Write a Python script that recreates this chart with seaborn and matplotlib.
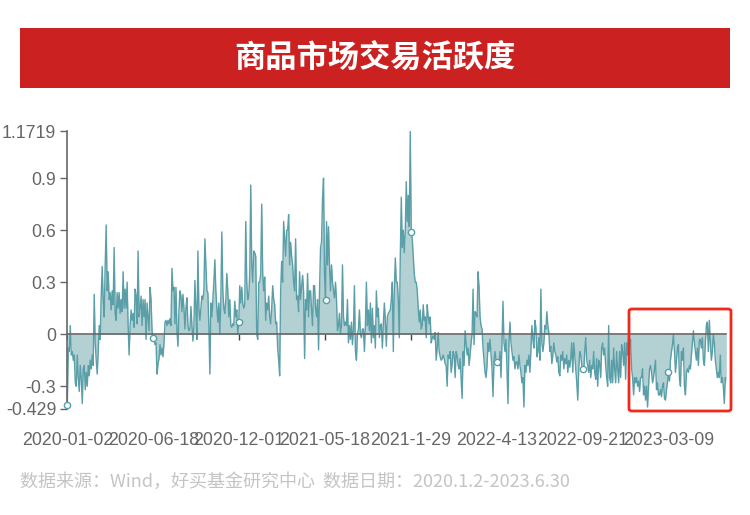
import numpy as np
import matplotlib
matplotlib.use("Agg")
import matplotlib.pyplot as plt
import matplotlib.patches as mpatches
import seaborn as sns

# ── Data (roughly one value per pixel column) ─────────────────────────────────
N_DAYS = 860
TICK_STEP = 112
TICK_LABELS = ["2020-01-02", "2020-06-18", "2020-12-01", "2021-05-18",
               "2021-1-29", "2022-4-13", "2022-09-21", "2023-03-09"]
Y_TICKS = [-0.429, -0.3, 0, 0.3, 0.6, 0.9, 1.1719]
Y_LABELS = ["-0.429", "-0.3", "0", "0.3", "0.6", "0.9", "1.1719"]

SEG_1 = [-0.41, -0.08, -0.10, 0.05, -0.12, -0.10, -0.15, -0.12, -0.28, -0.30, -0.12, -0.25,
         -0.33, -0.18, -0.25, -0.40, -0.20, -0.18, -0.32, -0.22, -0.30, -0.18, -0.24, -0.15,
         -0.20, -0.12, -0.18, 0.23, -0.05, -0.15, -0.23, -0.10, 0.05, -0.03, 0.22, 0.39,
         0.20, 0.10, 0.40, 0.63, 0.25, 0.36, 0.20, 0.24, 0.14, 0.25, 0.17, 0.50, 0.12, 0.08,
         0.24, 0.15, 0.24, 0.12, 0.20, 0.13, 0.36, 0.15, 0.26, 0.15, 0.30, 0.05, -0.12, 0.05,
         0.14, 0.08, 0.12, 0.04, 0.26, 0.22, 0.06, 0.48, 0.10, 0.15, 0.22, 0.05, 0.20, 0.10,
         0.20, -0.03, 0.18, 0.10, 0.02, 0.27, 0.20, 0.02, -0.02, -0.03, -0.06, -0.05, -0.23,
         -0.17, -0.14, -0.06]
SEG_2 = [-0.12, -0.08, -0.13, -0.05, 0.07, 0.08, 0.05, 0.08, 0.06, 0.09, 0.05, 0.38, 0.25,
         0.27, 0.06, 0.27, 0.02, -0.07, 0.14, 0.25, 0.22, 0.13, 0.23, 0.15, 0.03, 0.15, 0.21,
         0.05, 0.02, 0.03, 0.16, 0.05, -0.04, 0.05, 0.31, 0.15, -0.03, 0.48, 0.15, 0.08,
         0.15, 0.22, 0.20, 0.25, 0.55, 0.40, 0.25, 0.24, 0.05, -0.23, 0.18, 0.10, 0.20, 0.30,
         0.43, 0.25, 0.15, 0.07, 0.18, 0.00, 0.20, 0.59, 0.25, 0.15, 0.12, 0.20, 0.35, 0.25,
         0.10, 0.20, 0.05, 0.04, 0.06, 0.05, 0.19, 0.10, 0.14, 0.00, 0.07, 0.28, 0.18, 0.27,
         0.18, 0.15, 0.17, 0.65, 0.30, 0.20, 0.22, 0.35, 0.86, 0.40, 0.30, 0.48]
SEG_3 = [0.47, 0.45, 0.00, -0.03, 0.30, 0.30, 0.35, 0.75, 0.35, 0.25, 0.33, 0.08, 0.18, 0.14,
         0.22, 0.10, 0.06, 0.15, 0.28, 0.20, 0.17, 0.06, 0.07, -0.08, -0.15, -0.24, 0.25, 0.42,
         0.30, 0.65, 0.55, 0.45, 0.60, 0.60, 0.69, 0.40, 0.53, 0.45, 0.40, 0.30, 0.25, 0.55,
         0.20, 0.22, 0.13, 0.36, 0.20, 0.27, 0.34, 0.25, -0.14, 0.20, 0.14, 0.35, 0.10, 0.25,
         0.25, 0.14, 0.05, 0.28, 0.28, 0.15, 0.10, 0.20, -0.09, 0.25, 0.50, 0.53, 0.78, 0.90,
         0.35, 0.20, 0.65, 0.40, 0.62, 0.40, 0.25, 0.40, 0.30, 0.25, 0.21, 0.30, 0.20, 0.02,
         0.05, 0.12, 0.00, 0.05, 0.40, 0.10, 0.05, 0.07, 0.05, 0.20, -0.05, 0.05]
SEG_4 = [-0.03, 0.07, -0.06, 0.03, 0.28, -0.10, -0.15, 0.00, 0.03, 0.14, 0.00,
         -0.02, 0.03, 0.03, -0.10, 0.05, 0.30, 0.05, 0.14, 0.02, 0.18, -0.05, 0.15, -0.02,
         0.05, -0.08, 0.25, 0.10, 0.15, -0.02, 0.05, 0.06, -0.08, 0.06, 0.18, 0.08, -0.07,
         0.10, 0.12, 0.13, 0.14, 0.20, 0.30, -0.10, 0.25, 0.44, 0.30, 0.30, 0.20, -0.02, 0.45,
         0.79, 0.50, 0.60, 0.47, 0.60, 0.88, 0.65, 0.80, 0.62, 1.17, 0.59, 0.55, 0.45, 0.35,
         0.30, 0.30, 0.25, 0.15, 0.07, 0.14, 0.03, 0.05, 0.17, 0.08, 0.10, -0.02, 0.17, 0.10,
         0.06, 0.10, -0.05, -0.02, -0.01, -0.03, 0.01, -0.15, -0.08, 0.01, -0.10, -0.13,
         -0.15, -0.14]
SEG_5 = [-0.12, -0.14, -0.17, -0.18, -0.30, -0.12, -0.14, -0.10, -0.22, -0.17, -0.10, -0.12,
         -0.25, -0.10, -0.12, -0.18, -0.20, -0.14, -0.25, -0.37, -0.10, -0.18, 0.02, -0.05,
         -0.12, -0.08, -0.18, -0.12, -0.05, 0.00, 0.26, -0.06, 0.13, 0.12, 0.10, 0.36, 0.27,
         0.10, 0.05, 0.03, -0.08, -0.15, -0.22, -0.25, -0.18, -0.05, -0.10, -0.03, -0.12,
         -0.20, -0.36, -0.15, -0.10, -0.15, -0.16, -0.15, -0.18, -0.10, -0.25, -0.05, 0.19,
         -0.05, -0.10, -0.03, -0.20, -0.40, -0.05, 0.07, -0.05, -0.10, -0.15, -0.13, -0.20,
         -0.16, -0.16, -0.20, -0.12, -0.18, -0.22, -0.28, -0.25, -0.42, -0.18, -0.22, -0.15,
         -0.18, -0.12, -0.22, -0.10, 0.05, -0.03, -0.08, 0.08, 0.04]
SEG_6 = [-0.13, -0.10, -0.02, -0.15, 0.26, -0.05, -0.10, -0.05, 0.05, 0.03, 0.13, 0.05, 0.01,
         -0.10, -0.07, -0.17, -0.12, -0.05, -0.10, -0.12, -0.16, -0.13, -0.22, -0.24, -0.12,
         -0.15, -0.10, -0.20, -0.14, -0.17, -0.12, -0.22, -0.15, -0.19, -0.14, -0.05, -0.22,
         -0.05, -0.12, -0.20, -0.28, -0.38, -0.20, -0.10, -0.12, -0.18, -0.20, -0.22, -0.10,
         -0.02, -0.15, -0.18, -0.22, -0.15, -0.25, -0.18, -0.20, -0.10, -0.22, -0.26, -0.14,
         -0.30, -0.15, -0.17, -0.25, -0.08, -0.05, -0.12, -0.08, -0.18, -0.25, -0.30, 0.05,
         -0.25, -0.28, -0.15, -0.28, -0.08, -0.20, -0.28, -0.10, -0.20, -0.28, -0.10, -0.25,
         -0.06, -0.10, -0.18, -0.05, -0.26, -0.05, -0.12, -0.02]
SEG_7 = [-0.05, -0.03, -0.20, -0.25, -0.35, -0.25, -0.28, -0.25, -0.30, -0.27, -0.33, -0.25,
         -0.25, -0.20, -0.35, -0.30, -0.38, -0.30, -0.42, -0.30, -0.20, -0.18, -0.22, -0.28,
         -0.25, -0.20, -0.15, -0.32, -0.28, -0.35, -0.35, -0.32, -0.36, -0.30, -0.28, -0.37,
         -0.38, -0.32, -0.28, -0.22, -0.27, -0.15, -0.10, -0.06, 0.00, -0.10, -0.22, -0.15,
         -0.08, -0.06, -0.25, -0.30, -0.10, -0.15, -0.08, -0.30, -0.35, -0.22, -0.20, -0.22,
         -0.18, -0.20, -0.12, -0.05, 0.02, -0.05, -0.10, -0.15, -0.08, -0.18, -0.03, -0.03,
         -0.08, -0.02, -0.15, -0.18, -0.05, 0.05, 0.07, -0.10, 0.08, -0.05, -0.15, -0.10,
         0.00, -0.05, -0.15, -0.20, -0.25, -0.22, -0.25, -0.12, -0.28, -0.25, -0.30, -0.40,
         -0.25, -0.28]

values = np.array(SEG_1 + SEG_2 + SEG_3 + SEG_4 + SEG_5 + SEG_6 + SEG_7)
days = np.linspace(0, N_DAYS - 1, len(values))
tick_pos = np.arange(len(TICK_LABELS)) * TICK_STEP

# ── Palette ───────────────────────────────────────────────────────────────────
LINE = "#5A9FA8"
FILL = "#B3D0D3"
RED = "#CC2121"
TEXT = "#666666"

sns.set_theme(style="white")
plt.rcParams["font.family"] = ["Noto Sans CJK SC", "DejaVu Sans"]
TICK_FONT = ["Liberation Sans", "DejaVu Sans"]

W, H = 750, 515
fig = plt.figure(figsize=(W / 100, H / 100), dpi=100)
fig.patch.set_facecolor("white")

# title banner
fig.add_artist(mpatches.Rectangle((20 / W, 1 - 88 / H), 710 / W, 60 / H,
                                  transform=fig.transFigure, color=RED, lw=0))
fig.text(375 / W, 1 - 58 / H, "商品市场交易活跃度", color="white", fontsize=22.5,
         fontweight="bold", ha="center", va="center")

ax = fig.add_axes([67.3 / W, 106.4 / H, 659 / W, 277.6 / H])
ax.fill_between(days, values, 0, color=FILL, lw=0, zorder=1)
sns.lineplot(x=days, y=values, ax=ax, color=LINE, lw=1.0, zorder=2)
mark_idx = [int(np.argmin(np.abs(days - t))) for t in tick_pos]
ax.plot(days[mark_idx], values[mark_idx], "o", ms=4.5, mfc="white", mec=LINE,
        mew=1, zorder=4, clip_on=False)

ax.set_xlim(0, N_DAYS - 1)
ax.set_ylim(Y_TICKS[0], Y_TICKS[-1])
ax.set_yticks(Y_TICKS, Y_LABELS)
for s in ["top", "right"]:
    ax.spines[s].set_visible(False)
ax.spines["left"].set_color(TEXT)
ax.spines["left"].set_linewidth(1.2)
ax.spines["bottom"].set_position(("data", 0))
ax.spines["bottom"].set_color(TEXT)
ax.spines["bottom"].set_linewidth(1.2)
ax.spines["bottom"].set_zorder(3)
ax.set_xticks(tick_pos)
ax.tick_params(axis="x", bottom=True, length=4, width=1, color="#444444",
               direction="out", labelbottom=False)
ax.tick_params(axis="y", left=True, length=5, width=1, color=TEXT, labelcolor=TEXT, pad=3)
for lab in ax.get_yticklabels():
    lab.set_fontfamily(TICK_FONT)
    lab.set_fontsize(12.8)

sec = ax.secondary_xaxis("bottom")
sec.spines["bottom"].set_visible(False)
sec.set_xticks(tick_pos, TICK_LABELS)
sec.tick_params(length=0, pad=16.5, labelcolor=TEXT)
for lab in sec.get_xticklabels():
    lab.set_fontfamily(TICK_FONT)
    lab.set_fontsize(12.8)

# highlight box around the latest period
fig.add_artist(mpatches.FancyBboxPatch((629 / W, 1 - 411 / H), 102 / W, 102 / H,
                                       boxstyle="round,pad=0,rounding_size=0.004",
                                       transform=fig.transFigure, fill=False,
                                       ec="#F02A1E", lw=2))

fig.text(20 / W, 1 - 482 / H, "数据来源：Wind，好买基金研究中心  数据日期：2020.1.2-2023.6.30",
         color="#C4C4C4", fontsize=13, ha="left", va="center")

fig.savefig("out.png", dpi=100, facecolor="white")
